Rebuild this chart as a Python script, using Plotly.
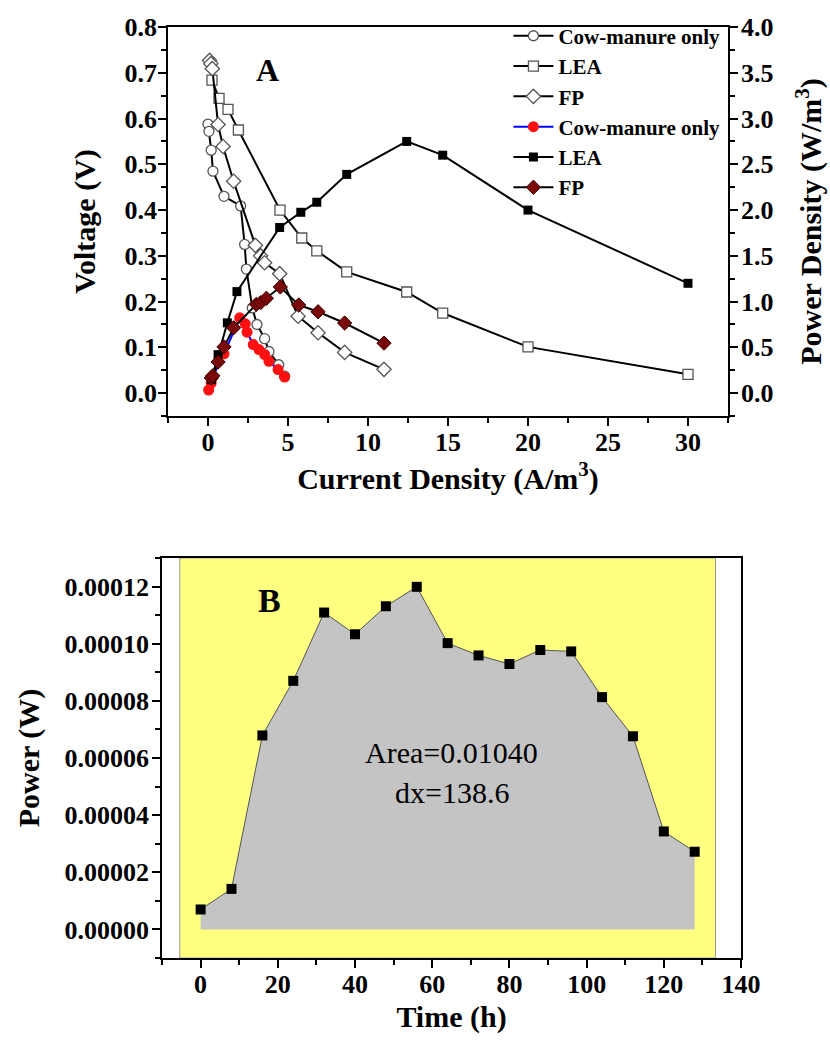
import plotly.graph_objects as go

# ---------------- Panel A data ----------------
cow_v_x = [0.0, 0.06, 0.2, 0.31, 1.0, 2.04, 2.29, 2.4, 2.77, 3.06, 3.54, 3.81, 4.42, 4.79]
cow_v_y = [0.588, 0.572, 0.531, 0.485, 0.430, 0.409, 0.325, 0.271, 0.186, 0.150, 0.119, 0.091, 0.062, 0.037]

lea_v_x = [0.25, 0.69, 1.25, 1.9, 4.5, 5.86, 6.8, 8.67, 12.42, 14.67, 20.0, 30.0]
lea_v_y = [0.684, 0.644, 0.620, 0.575, 0.400, 0.339, 0.311, 0.265, 0.221, 0.175, 0.101, 0.041]

fp_v_x = [0.1, 0.18, 0.27, 0.63, 0.94, 1.6, 2.96, 3.29, 3.54, 4.48, 5.63, 6.88, 8.54, 11.0]
fp_v_y = [0.727, 0.720, 0.709, 0.587, 0.539, 0.463, 0.323, 0.300, 0.285, 0.261, 0.168, 0.132, 0.089, 0.052]

cow_p_x = [0.04, 0.2, 0.31, 1.0, 1.98, 2.33, 2.44, 2.83, 3.19, 3.54, 3.81, 4.38, 4.79]
cow_p_y = [0.033, 0.11, 0.183, 0.43, 0.823, 0.757, 0.666, 0.531, 0.476, 0.422, 0.348, 0.257, 0.176]

lea_p_x = [0.21, 0.63, 1.21, 1.81, 4.48, 5.8, 6.8, 8.67, 12.42, 14.67, 20.0, 30.0]
lea_p_y = [0.147, 0.42, 0.768, 1.109, 1.81, 1.976, 2.086, 2.39, 2.75, 2.60, 2.0, 1.20]

fp_p_x = [0.21, 0.3, 0.63, 1.0, 1.6, 3.02, 3.29, 3.65, 4.52, 5.67, 6.88, 8.54, 11.0]
fp_p_y = [0.165, 0.19, 0.34, 0.505, 0.714, 0.970, 0.988, 1.036, 1.160, 0.963, 0.889, 0.766, 0.546]

# ---------------- Panel B data ----------------
time_h = [0, 8, 16, 24, 32, 40, 48, 56, 64, 72, 80, 88, 96, 104, 112, 120, 128]
power_w = [7.0e-6, 1.42e-5, 6.79e-5, 8.70e-5, 1.109e-4, 1.033e-4, 1.131e-4, 1.199e-4,
           1.002e-4, 9.59e-5, 9.29e-5, 9.78e-5, 9.73e-5, 8.13e-5, 6.76e-5, 3.43e-5, 2.72e-5]

SERIF = "Times New Roman, Liberation Serif, serif"
tickfont = dict(family=SERIF, size=26, color="black", weight="bold")
titlefont = dict(family=SERIF, size=30, color="black", weight="bold")

fig = go.Figure()

open_marker = lambda sym: dict(symbol=sym, size=10, color="white", line=dict(color="#555555", width=1.3))

fig.add_trace(go.Scatter(x=cow_v_x, y=cow_v_y, name="Cow-manure only", mode="lines+markers",
                         line=dict(color="black", width=2), marker=open_marker("circle"),
                         xaxis="x", yaxis="y"))
fig.add_trace(go.Scatter(x=lea_v_x, y=lea_v_y, name="LEA", mode="lines+markers",
                         line=dict(color="black", width=2), marker=open_marker("square"),
                         xaxis="x", yaxis="y"))
fig.add_trace(go.Scatter(x=fp_v_x, y=fp_v_y, name="FP", mode="lines+markers",
                         line=dict(color="black", width=2), marker=dict(symbol="diamond", size=11, color="white",
                                                                        line=dict(color="#555555", width=1.3)),
                         xaxis="x", yaxis="y"))
fig.add_trace(go.Scatter(x=cow_p_x, y=cow_p_y, name="Cow-manure only", mode="lines+markers",
                         line=dict(color="blue", width=2), marker=dict(symbol="circle", size=11, color="#ff1010"),
                         xaxis="x", yaxis="y2"))
fig.add_trace(go.Scatter(x=lea_p_x, y=lea_p_y, name="LEA", mode="lines+markers",
                         line=dict(color="black", width=2), marker=dict(symbol="square", size=9, color="black"),
                         xaxis="x", yaxis="y2"))
fig.add_trace(go.Scatter(x=fp_p_x, y=fp_p_y, name="FP", mode="lines+markers",
                         line=dict(color="black", width=2), marker=dict(symbol="diamond", size=11, color="#7a0a0a",
                                                                        line=dict(color="#3a0000", width=1)),
                         xaxis="x", yaxis="y2"))

fig.add_trace(go.Scatter(x=time_h, y=power_w, mode="lines+markers", showlegend=False,
                         fill="tozeroy", fillcolor="#c4c4c4",
                         line=dict(color="#555555", width=1),
                         marker=dict(symbol="square", size=10, color="black"),
                         xaxis="x2", yaxis="y3"))

axis_common = dict(showgrid=False, zeroline=False, showline=True, linecolor="black", linewidth=1.5,
                   ticks="outside", ticklen=8, tickwidth=1.5, tickcolor="black", tickfont=tickfont,
                   automargin=False)

fig.update_layout(
    width=830, height=1040,
    margin=dict(l=0, r=0, t=0, b=0),
    paper_bgcolor="white", plot_bgcolor="white",
    template="none",
    font=dict(family=SERIF, color="black"),
    xaxis=dict(domain=[0.2024, 0.8771], range=[-2.5, 32.5], dtick=5, mirror=True,
               minor=dict(dtick=2.5, ticklen=5, tickwidth=1.5, tickcolor="black", ticks="outside"),
               title=dict(text="Current Density (A/m<sup>3</sup>)", font=titlefont, standoff=4),
               ticklabelstandoff=-6,
               anchor="y", **axis_common),
    yaxis=dict(domain=[0.6, 0.974], range=[-0.05, 0.8], dtick=0.1, tickformat=".1f",
               minor=dict(dtick=0.05, ticklen=5, tickwidth=1.5, tickcolor="black", ticks="outside"),
               title=dict(text="Voltage (V)", font=titlefont, standoff=20),
               ticklabelstandoff=-4,
               anchor="x", **axis_common),
    yaxis2=dict(range=[-0.25, 4.0], dtick=0.5, tickformat=".1f", overlaying="y", side="right",
                minor=dict(dtick=0.25, ticklen=5, tickwidth=1.5, tickcolor="black", ticks="outside"),
                title=dict(text="Power Density (W/m<sup>3</sup>)", font=titlefont, standoff=28),
                ticklabelstandoff=-2,
                anchor="x", **axis_common),
    xaxis2=dict(domain=[0.1952, 0.8928], range=[-10, 140], dtick=20, mirror=True,
                minor=dict(dtick=10, ticklen=5, tickwidth=1.5, tickcolor="black", ticks="outside"),
                title=dict(text="Time (h)", font=titlefont, standoff=8),
                ticklabelstandoff=-6,
                anchor="y3", **axis_common),
    yaxis3=dict(domain=[0.0788, 0.4635], range=[-0.00001, 0.00013], dtick=0.00002, tickformat=".5f",
                mirror=True,
                minor=dict(dtick=0.00001, ticklen=5, tickwidth=1.5, tickcolor="black", ticks="outside"),
                title=dict(text="Power (W)", font=titlefont, standoff=16),
                ticklabelstandoff=-2,
                anchor="x2", **axis_common),
    legend=dict(x=0.874, y=0.985, xanchor="right", yanchor="top", bgcolor="rgba(0,0,0,0)",
                font=dict(family=SERIF, size=21, color="black", weight="bold"),
                tracegroupgap=0, itemwidth=40),
    showlegend=True,
)

fig.add_shape(type="rect", xref="x2", yref="y3 domain", x0=-5.4, x1=133.4, y0=0, y1=1,
              fillcolor="#ffff80", line=dict(color="#999999", width=1), layer="below")

fig.add_annotation(x=3.7, y=0.706, xref="x", yref="y", text="A", showarrow=False,
                   font=dict(family=SERIF, size=32, color="black", weight="bold"))
fig.add_annotation(x=17.9, y=0.0001152, xref="x2", yref="y3", text="B", showarrow=False,
                   font=dict(family=SERIF, size=34, color="black", weight="bold"))
fig.add_annotation(x=65, y=0.0000618, xref="x2", yref="y3", text="Area=0.01040", showarrow=False,
                   font=dict(family=SERIF, size=30, color="black"))
fig.add_annotation(x=65, y=0.0000478, xref="x2", yref="y3", text="dx=138.6", showarrow=False,
                   font=dict(family=SERIF, size=30, color="black"))

fig.write_html("out.html")
